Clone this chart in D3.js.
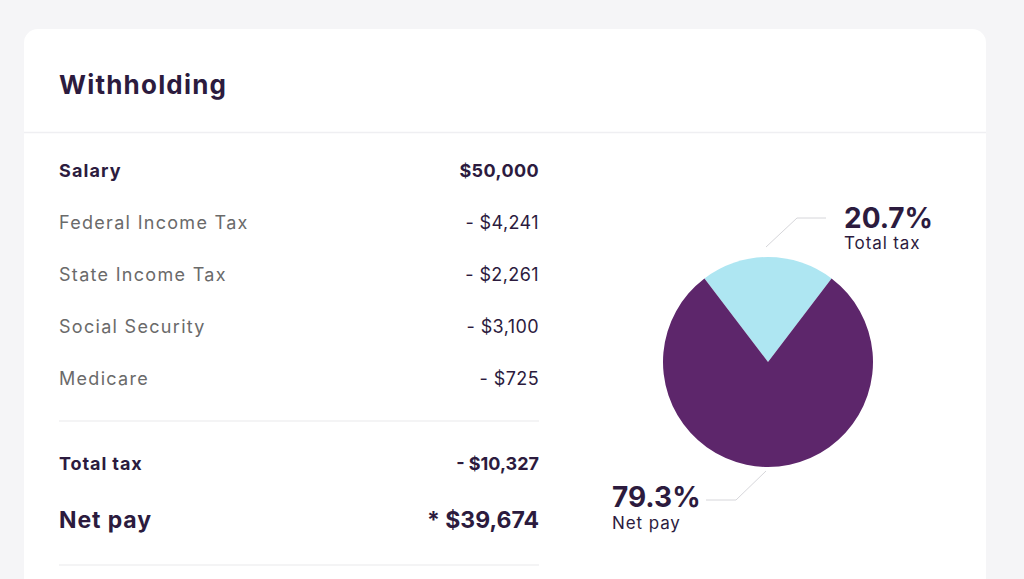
<!DOCTYPE html>
<html><head><meta charset="utf-8">
<script src="https://cdn.jsdelivr.net/npm/d3@7"></script>
<style>
html,body{margin:0;padding:0;background:#f5f5f7;}
svg{display:block;font-family:Inter,"Noto Sans",sans-serif;}
</style></head>
<body><svg id="c" width="1024" height="579"></svg>
<script>
const title = "Withholding";
const rowLabels = ["Salary","Federal Income Tax","State Income Tax","Social Security","Medicare"];
const rowValues = ["$50,000","- $4,241","- $2,261","- $3,100","- $725"];
const totalLabels = ["Total tax","Net pay"];
const totalValues = ["- $10,327","* $39,674"];
const sliceNames = ["Total tax","Net pay"];
const slicePercents = [20.7, 79.3];

const dark = "#2c1b3e", gray = "#6a6a6a";
const svg = d3.select("#c");

// card
svg.append("rect").attr("x",24).attr("y",29).attr("width",962).attr("height",600)
  .attr("rx",14).attr("fill","#fff");
svg.append("line").attr("x1",24).attr("x2",986).attr("y1",132.5).attr("y2",132.5)
  .attr("stroke","#efeff2").attr("stroke-width",1.5);
svg.append("text").attr("x",59).attr("y",94).text(title)
  .attr("font-size",26).attr("font-weight",700).attr("fill",dark).attr("letter-spacing",1.2);

// table rows
const y = d3.scalePoint().domain(rowLabels).range([171,379]);
const g = svg.append("g");
rowLabels.forEach((l,i)=>{
  const bold = i===0;
  g.append("text").attr("x",59).attr("y",y(l)).attr("dy","0.35em").text(l)
    .attr("font-size",18).attr("font-weight",bold?700:400).attr("fill",bold?dark:gray)
    .attr("letter-spacing",bold?1.1:1.3);
  g.append("text").attr("x",539).attr("y",y(l)).attr("dy","0.35em").attr("text-anchor","end").text(rowValues[i])
    .attr("font-size",18).attr("font-weight",bold?700:400).attr("fill",dark).attr("letter-spacing",0.4);
});
svg.append("line").attr("x1",59).attr("x2",539).attr("y1",421).attr("y2",421).attr("stroke","#f0f0f2").attr("stroke-width",1.5);
const ty = [464,520], tsz = [18,23];
totalLabels.forEach((l,i)=>{
  svg.append("text").attr("x",59).attr("y",ty[i]).attr("dy","0.35em").text(l)
    .attr("font-size",tsz[i]).attr("font-weight",700).attr("fill",dark).attr("letter-spacing",0.9);
  svg.append("text").attr("x",539).attr("y",ty[i]).attr("dy","0.35em").attr("text-anchor","end").text(totalValues[i])
    .attr("font-size",tsz[i]).attr("font-weight",700).attr("fill",dark);
});
svg.append("line").attr("x1",59).attr("x2",539).attr("y1",565).attr("y2",565).attr("stroke","#f0f0f2").attr("stroke-width",1.5);

// pie
const cx=768, cy=362, r=105;
const taxAngle = slicePercents[0]/100*2*Math.PI;
const pie = d3.pie().sort(null).value(d=>d).startAngle(-taxAngle/2).endAngle(2*Math.PI-taxAngle/2);
const arc = d3.arc().innerRadius(0).outerRadius(r);
const colors = ["#aee6f2","#5d266b"];
svg.append("g").attr("transform",`translate(${cx},${cy})`)
  .selectAll("path").data(pie(slicePercents)).join("path")
  .attr("d",arc).attr("fill",(d,i)=>colors[i]);

// leader lines and labels
const leaders = [
  [[766,247],[797,218],[826,218]],
  [[766,471],[736,500],[706,500]]
];
svg.selectAll(".ld").data(leaders).join("path")
  .attr("d",d3.line()).attr("fill","none").attr("stroke","#d6d6da").attr("stroke-width",1);
const lab = [{x:844,y1:228,y2:249},{x:612,y1:507,y2:529}];
slicePercents.forEach((p,i)=>{
  svg.append("text").attr("x",lab[i].x).attr("y",lab[i].y1).text(p.toFixed(1)+"%")
    .attr("font-size",28).attr("font-weight",700).attr("fill",dark);
  svg.append("text").attr("x",lab[i].x).attr("y",lab[i].y2).text(sliceNames[i])
    .attr("font-size",17).attr("font-weight",400).attr("fill",dark).attr("letter-spacing",0.9);
});
</script></body></html>
